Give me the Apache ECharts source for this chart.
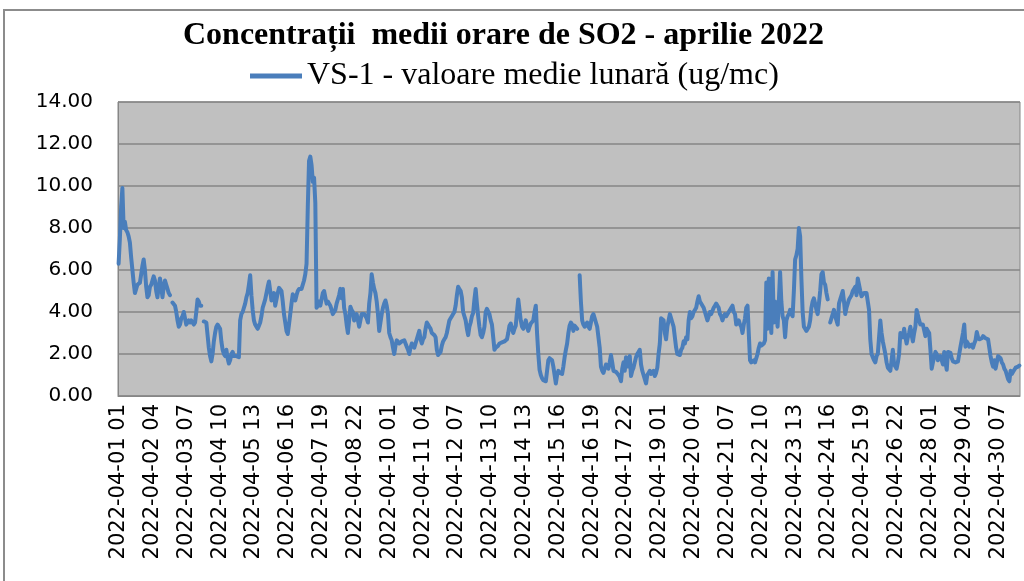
<!DOCTYPE html>
<html>
<head>
<meta charset="utf-8">
<script src="https://cdn.jsdelivr.net/npm/echarts@6/dist/echarts.min.js"></script>
<style>
  html, body { margin: 0; padding: 0; background: #fff; }
  #chart { width: 1024px; height: 581px; }
</style>
</head>
<body>
<div id="chart"></div>
<script>
// chart texts
const titleText = "Concentrații  medii orare de SO2 - aprilie 2022";
const seriesName = "VS-1 - valoare medie lunară (ug/mc)";

// y axis: 0.00 .. 14.00, step 2
const yMin = 0;
const yMax = 14;
const yStep = 2;

// hourly SO2 values (one row = 24 hours, starting 2022-04-01 01)
// null = missing hour (gap in the line)
const so2 = [
  6.3, 7.5, 9.0, 9.9, 8.0, 8.3, 7.9, 7.8, 7.6, 7.3, 6.6, 6.0, 5.4, 4.9, 5.1, 5.3, 5.35, 5.4, 5.8, 6.2, 6.5, 6.0, 5.2, 4.7,
  4.8, 5.2, 5.3, 5.5, 5.7, 5.5, 5.0, 4.7, 5.2, 5.6, 5.2, 4.7, 5.2, 5.5, 5.3, 5.1, 4.9, 4.8, null, 4.45, 4.4, 4.3, 4.0, 3.6,
  3.3, 3.4, 3.7, 3.8, 4.0, 3.7, 3.4, 3.5, 3.6, 3.5, 3.6, 3.5, 3.4, 3.5, 4.0, 4.6, 4.5, 4.3, 4.3, null, 3.55, 3.5, 3.5, 2.9,
  2.3, 1.9, 1.65, 2.0, 2.6, 3.0, 3.3, 3.4, 3.45, 3.2, 2.6, 2.2, 2.0, 1.9, 2.2, 1.8, 1.55, 1.7, 2.0, 2.1, 1.9, 1.85, 1.9, 1.95,
  1.85, 3.6, 3.9, 4.0, 4.2, 4.4, 4.7, 4.9, 5.3, 5.75, 4.8, 4.1, 3.6, 3.4, 3.3, 3.2, 3.35, 3.5, 3.8, 4.2, 4.4, 4.6, 4.9, 5.2,
  5.45, 5.0, 4.55, 4.7, 4.9, 4.3, 4.6, 4.9, 5.15, 5.1, 5.0, 4.5, 3.9, 3.5, 3.1, 2.95, 3.4, 3.9, 4.4, 4.85, 4.7, 4.55, 4.8, 5.0,
  5.1, 5.15, 5.1, 5.15, 5.5, 5.8, 6.3, 9.0, 11.2, 11.4, 11.0, 10.2, 10.4, 9.2, 4.2, 4.3, 4.5, 4.3, 4.6, 4.9, 5.0, 4.7, 4.4, 4.5,
  4.55, 4.3, 4.1, 3.9, 3.85, 4.1, 4.4, 4.4, 4.8, 5.1, 4.65, 5.1, 4.2, 3.9, 3.4, 3.0, 3.6, 4.25, 4.1, 4.0, 3.6, 3.7, 3.9, 3.6,
  3.3, 3.6, 3.9, 3.9, 3.9, 3.9, 3.7, 3.5, 4.4, 4.9, 5.8, 5.4, 5.1, 4.9, 4.5, 3.9, 3.1, 3.5, 3.9, 4.2, 4.4, 4.55, 4.3, 3.9,
  3.0, 2.8, 2.65, 2.3, 2.0, 2.4, 2.65, 2.6, 2.5, 2.55, 2.6, 2.6, 2.65, 2.5, 2.35, 2.2, 2.0, 2.3, 2.5, 2.4, 2.3, 2.3, 2.7, 2.9,
  3.1, 2.7, 2.5, 2.7, 2.8, 3.2, 3.5, 3.4, 3.3, 3.2, 3.0, 3.0, 2.9, 2.8, 2.2, 1.95, 2.0, 2.1, 2.4, 2.6, 2.7, 2.8, 3.0, 3.3,
  3.6, 3.7, 3.8, 3.9, 4.0, 4.3, 4.8, 5.2, 5.1, 5.0, 4.7, 4.0, 3.8, 3.6, 3.2, 2.9, 3.3, 3.5, 3.8, 3.95, 4.6, 5.1, 4.4, 3.8,
  3.3, 2.9, 2.8, 3.0, 3.3, 4.0, 4.15, 4.1, 3.9, 3.6, 3.4, 2.8, 2.2, 2.3, 2.35, 2.4, 2.5, 2.5, 2.55, 2.6, 2.6, 2.65, 2.7, 3.0,
  3.35, 3.45, 3.2, 3.0, 3.2, 3.35, 4.0, 4.6, 4.65, 3.6, 3.3, 3.2, 3.4, 3.6, 3.3, 3.1, 3.3, 3.45, 3.5, 3.6, 4.0, 4.3, 3.0, 2.0,
  1.25, 1.0, 0.85, 0.75, 0.7, 0.7, 1.2, 1.7, 1.8, 1.85, 1.7, 1.4, 1.0, 0.6, 1.0, 1.2, 1.1, 1.05, 1.05, 1.4, 1.85, 2.2, 2.5, 3.0,
  3.35, 3.5, 3.4, 3.1, 3.35, 3.3, 3.2, null, 5.75, 4.5, 3.6, 3.4, 3.3, 3.4, 3.5, 3.3, 3.2, 3.5, 3.8, 3.9, 3.9, 3.5, 3.3, 2.8,
  2.3, 1.4, 1.2, 1.1, 1.05, 1.5, 1.5, 1.3, 1.6, 1.95, 1.6, 1.2, 1.2, 1.15, 1.2, 1.0, 0.9, 0.7, 1.3, 1.6, 1.2, 1.85, 1.4, 1.6,
  1.9, 0.95, 1.2, 1.35, 1.6, 1.85, 2.0, 2.1, 2.2, 1.5, 1.2, 1.0, 0.8, 0.6, 1.0, 1.1, 1.2, 1.05, 1.1, 1.2, 0.95, 1.1, 1.35, 2.0,
  2.5, 3.7, 3.7, 3.6, 3.0, 2.7, 3.3, 3.6, 3.9, 3.7, 3.5, 3.3, 2.8, 2.3, 2.0, 2.0, 1.95, 2.2, 2.3, 2.6, 2.5, 2.8, 2.7, 3.6,
  4.0, 3.7, 3.8, 4.0, 4.1, 4.2, 4.5, 4.75, 4.5, 4.4, 4.45, 4.2, 4.0, 3.8, 3.6, 3.8, 4.0, 3.9, 3.9, 4.2, 4.3, 4.4, 4.3, 4.2,
  3.9, 3.8, 3.6, 3.8, 3.9, 3.8, 3.8, 4.0, 4.0, 4.2, 4.3, 4.0, 3.9, 3.4, 3.5, 3.6, 3.4, 3.3, 3.0, 3.4, 3.7, 4.2, 4.3, 4.3,
  1.7, 1.6, 1.65, 1.7, 1.6, 1.55, 2.0, 2.3, 2.5, 2.4, 2.35, 2.5, 2.65, 5.4, 3.2, 5.6, 4.0, 3.0, 5.9, 3.5, 4.5, 4.0, 3.3, 4.5,
  5.9, 4.5, 3.8, 3.6, 2.8, 3.6, 3.8, 3.9, 4.1, 3.9, 3.8, 5.0, 6.5, 6.7, 7.0, 8.0, 7.6, 5.6, 4.0, 3.3, 3.2, 3.1, 3.05, 3.3,
  3.6, 4.2, 4.5, 4.65, 4.4, 4.1, 3.9, 4.4, 5.0, 5.8, 5.9, 5.4, 5.3, 4.9, 4.6, null, 3.5, 3.7, 3.9, 4.1, 3.8, 3.6, 3.4, 4.4,
  4.6, 4.8, 5.0, 4.5, 3.9, 4.2, 4.4, 4.6, 4.6, 4.8, 5.0, 5.1, 5.2, 4.8, 5.6, 5.3, 5.0, 4.75, 4.8, 4.9, 4.9, 4.9, 4.5, 4.1,
  2.7, 2.0, 1.85, 1.7, 1.6, 1.9, 2.0, 2.0, 3.6, 3.0, 2.6, 2.3, 2.0, 1.6, 1.35, 1.3, 1.2, 1.7, 2.2, 1.5, 1.4, 1.3, 1.6, 2.0,
  3.0, 2.9, 2.8, 3.2, 2.8, 2.5, 2.8, 3.0, 3.3, 2.9, 2.6, 3.0, 3.3, 4.1, 4.15, 3.6, 3.4, 3.35, 3.4, 3.45, 2.85, 3.2, 3.1, 3.0,
  2.2, 1.3, 1.6, 1.85, 2.1, 2.0, 1.7, 1.8, 1.9, 1.7, 1.5, 2.1, 1.6, 1.25, 2.1, 2.1, 2.05, 1.8, 1.65, 1.6, 1.6, 1.6, 1.65, 2.0,
  2.35, 2.4, 3.0, 3.4, 2.35, 2.6, 2.5, 2.35, 2.4, 2.45, 2.3, 2.5, 2.65, 3.05, 2.8, 2.7, 2.65, 2.75, 2.85, 2.8, 2.75, 2.8, 2.7, 2.65,
  1.9, 1.6, 1.4, 1.7, 1.3, 1.6, 1.9, 1.85, 1.8, 1.6, 1.5, 1.3, 1.2, 1.0, 0.8, 0.7, 1.2, 1.05, 1.15, 1.25, 1.35, 1.3, 1.4, 1.45
];

// hour categories "2022-04-01 01" ... (one per value)
const hours = [];
const pad = n => (n < 10 ? "0" + n : "" + n);
for (let i = 0; i < so2.length; i++) {
  const d = new Date(Date.UTC(2022, 3, 1, 1 + i));
  hours.push(d.getUTCFullYear() + "-" + pad(d.getUTCMonth() + 1) + "-" + pad(d.getUTCDate()) + " " + pad(d.getUTCHours()));
}

const myChart = echarts.init(document.getElementById("chart"));

myChart.setOption({
  animation: false,
  backgroundColor: "#ffffff",
  graphic: [
    {
      // outer chart border (cut off at right/bottom like the picture)
      type: "rect",
      shape: { x: 4, y: 10, width: 1100, height: 700 },
      style: { fill: "none", stroke: "#8c8c8c", lineWidth: 2 }
    }
  ],
  title: {
    text: titleText,
    left: 183,
    top: 20,
    padding: 0,
    textStyle: {
      fontFamily: "Liberation Serif",
      fontWeight: "bold",
      fontSize: 32,
      color: "#000"
    }
  },
  legend: {
    data: [seriesName],
    left: 250,
    top: 60,
    padding: 0,
    icon: "rect",
    itemWidth: 52,
    itemHeight: 5,
    itemGap: 3,
    textStyle: {
      fontFamily: "Liberation Serif",
      fontSize: 32,
      color: "#000"
    }
  },
  grid: {
    left: 118,
    right: 4,
    top: 102,
    bottom: 185,
    show: true,
    backgroundColor: "#c0c0c0",
    borderColor: "#868686",
    borderWidth: 1
  },
  xAxis: {
    type: "category",
    data: hours,
    boundaryGap: true,
    axisTick: { show: false },
    axisLine: { lineStyle: { color: "#868686", width: 1 } },
    axisLabel: {
      interval: 26,
      rotate: 90,
      margin: 8,
      fontFamily: "DejaVu Sans",
      fontSize: 21,
      color: "#000"
    }
  },
  yAxis: {
    type: "value",
    min: yMin,
    max: yMax,
    interval: yStep,
    axisLine: { show: true, lineStyle: { color: "#868686" } },
    axisTick: { show: false },
    splitLine: { lineStyle: { color: "#868686", width: 1.5 } },
    axisLabel: {
      margin: 25,
      fontFamily: "DejaVu Sans",
      fontSize: 20,
      color: "#000",
      formatter: v => v.toFixed(2)
    }
  },
  series: [
    {
      name: seriesName,
      type: "line",
      data: so2,
      symbol: "none",
      connectNulls: false,
      color: "#4a7ebb",
      lineStyle: { color: "#4a7ebb", width: 4, join: "round", cap: "round" }
    }
  ]
});
</script>
</body>
</html>
